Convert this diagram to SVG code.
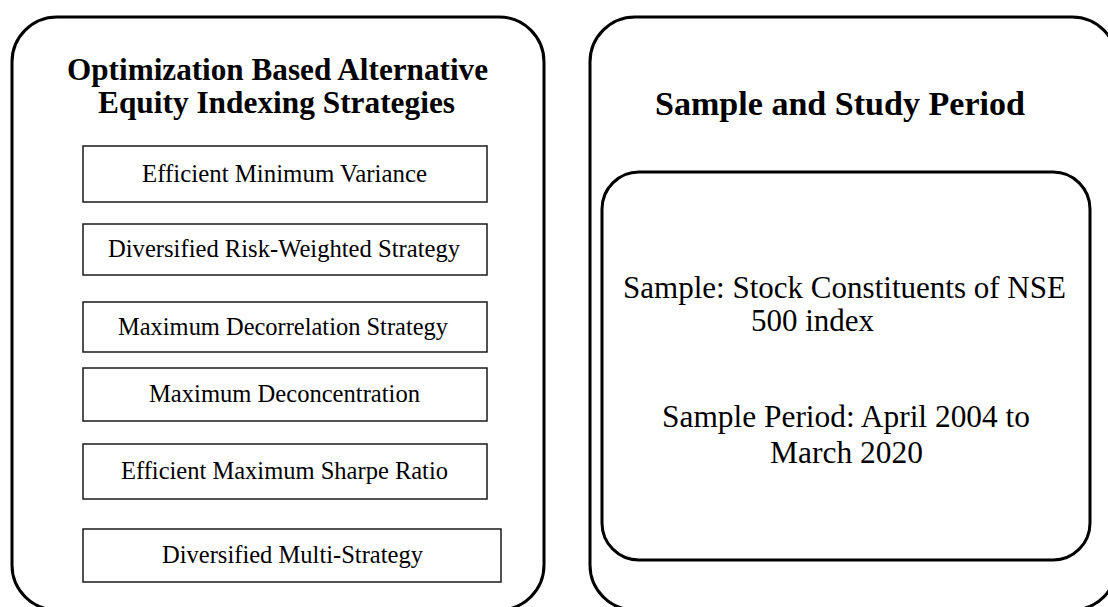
<svg xmlns="http://www.w3.org/2000/svg" width="1108" height="607" viewBox="0 0 1108 607">
  <style>
    .panel { fill: #ffffff; stroke: #000000; stroke-width: 3; }
    .item { fill: #ffffff; stroke: #1a1a1a; stroke-width: 1.5; }
    text { font-family: "Liberation Serif", "Times New Roman", Times, serif; fill: #000000; }
    .head { font-weight: bold; }
    .small { font-size: 24.5px; }
    .large { font-size: 31px; }
  </style>
  <rect width="1108" height="607" fill="#ffffff"/>

  <!-- Left panel: indexing strategies -->
  <g id="strategies-panel">
    <rect class="panel" x="12" y="17" width="532" height="593" rx="45" ry="45"/>
    <text class="head" font-size="31" x="67" y="80" textLength="421" lengthAdjust="spacingAndGlyphs">Optimization Based Alternative</text>
    <text class="head" font-size="31" x="98" y="113" textLength="357" lengthAdjust="spacingAndGlyphs">Equity Indexing Strategies</text>
  </g>

  <g id="efficient-minimum-variance">
    <rect class="item" x="83" y="146" width="404" height="56"/>
    <text class="small" x="142" y="182" textLength="285" lengthAdjust="spacingAndGlyphs">Efficient Minimum Variance</text>
  </g>
  <g id="diversified-risk-weighted">
    <rect class="item" x="83" y="224" width="404" height="51"/>
    <text class="small" x="108" y="257" textLength="352" lengthAdjust="spacingAndGlyphs">Diversified Risk-Weighted Strategy</text>
  </g>
  <g id="maximum-decorrelation">
    <rect class="item" x="83" y="302" width="404" height="50"/>
    <text class="small" x="118" y="335" textLength="330" lengthAdjust="spacingAndGlyphs">Maximum Decorrelation Strategy</text>
  </g>
  <g id="maximum-deconcentration">
    <rect class="item" x="83" y="368" width="404" height="53"/>
    <text class="small" x="149" y="402" textLength="271" lengthAdjust="spacingAndGlyphs">Maximum Deconcentration</text>
  </g>
  <g id="efficient-maximum-sharpe">
    <rect class="item" x="83" y="444" width="404" height="55"/>
    <text class="small" x="121" y="479" textLength="327" lengthAdjust="spacingAndGlyphs">Efficient Maximum Sharpe Ratio</text>
  </g>
  <g id="diversified-multi-strategy">
    <rect class="item" x="83" y="529" width="418" height="53"/>
    <text class="small" x="162" y="563" textLength="261" lengthAdjust="spacingAndGlyphs">Diversified Multi-Strategy</text>
  </g>

  <!-- Right panel: sample and study period -->
  <g id="sample-panel">
    <rect class="panel" x="590" y="17" width="527" height="593" rx="45" ry="45"/>
    <text class="head" font-size="34" x="655" y="115" textLength="370" lengthAdjust="spacingAndGlyphs">Sample and Study Period</text>
  </g>
  <g id="sample-details">
    <rect class="panel" x="602" y="172" width="488" height="388" rx="37" ry="37"/>
    <text class="large" x="623" y="298" textLength="443" lengthAdjust="spacingAndGlyphs">Sample: Stock Constituents of NSE</text>
    <text class="large" x="751" y="331">500 index</text>
    <text class="large" x="662" y="427" textLength="368" lengthAdjust="spacingAndGlyphs">Sample Period: April 2004 to</text>
    <text class="large" x="770" y="463" textLength="153" lengthAdjust="spacingAndGlyphs">March 2020</text>
  </g>

  <!-- No connectors in this figure -->
  <g id="connectors"/>
</svg>
